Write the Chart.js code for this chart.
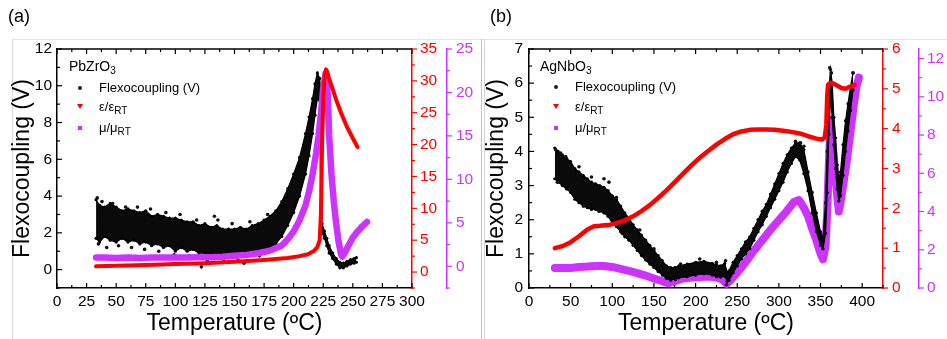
<!DOCTYPE html>
<html>
<head>
<meta charset="utf-8">
<script src="https://cdn.jsdelivr.net/npm/chart.js@4.4.0/dist/chart.umd.min.js"></script>
<style>
  body { margin:0; width:947px; height:339px; position:relative; background:#fff; overflow:hidden;
         font-family:"Liberation Sans", Arial, sans-serif; color:#000; }
  .box { position:absolute; top:0; height:339px; }
  .tag { position:absolute; top:5px; font-size:18px; line-height:22px; }
  .lg  { position:absolute; font-size:13px; line-height:16px; white-space:nowrap; }
  .lgt { position:absolute; font-size:14px; line-height:18px; white-space:nowrap; }
  sub  { font-size:10px; line-height:0; vertical-align:-3px; }
  .dot { position:absolute; width:4px; height:4px; border-radius:2px; background:#222; }
  .tri { position:absolute; width:0; height:0; border-left:3px solid transparent; border-right:3px solid transparent; border-top:5px solid #ff0000; }
  .sq  { position:absolute; width:4px; height:4px; background:#cc33ff; }
  .ln  { position:absolute; }
</style>
</head>
<body>
<div class="ln" style="left:12px;top:39px;width:935px;height:1px;background:#e4e4e4"></div>
<div class="ln" style="left:12px;top:39px;width:1px;height:300px;background:#dadada"></div>
<div class="ln" style="left:481px;top:39px;width:1px;height:300px;background:#c4c4c4"></div>
<div class="ln" style="left:484px;top:39px;width:1px;height:300px;background:#d4d4d4"></div>

<div class="box" style="left:0;width:480px"><canvas id="chartA"></canvas></div>
<div class="box" style="left:485px;width:462px"><canvas id="chartB"></canvas></div>

<div class="tag" style="left:8px">(a)</div>
<div class="tag" style="left:490px">(b)</div>

<div class="lgt" style="left:69px;top:57px">PbZrO<sub>3</sub></div>
<div class="dot" style="left:78px;top:86px"></div><div class="lg" style="left:99px;top:80px">Flexocoupling (V)</div>
<div class="tri" style="left:77px;top:104px"></div><div class="lg" style="left:99px;top:99px">ε/ε<sub>RT</sub></div>
<div class="sq"  style="left:78px;top:126px"></div><div class="lg" style="left:99px;top:120px">μ/μ<sub>RT</sub></div>

<div class="lgt" style="left:540px;top:57px">AgNbO<sub>3</sub></div>
<div class="dot" style="left:554px;top:85px"></div><div class="lg" style="left:575px;top:79px">Flexocoupling (V)</div>
<div class="tri" style="left:553px;top:104px"></div><div class="lg" style="left:575px;top:99px">ε/ε<sub>RT</sub></div>
<div class="sq"  style="left:554px;top:126px"></div><div class="lg" style="left:575px;top:120px">μ/μ<sub>RT</sub></div>

<script>
// ---------- (a) PbZrO3 ----------
var tempA_flex = [33,36,40,45,50,55,60,65,70,75,80,85,90,95,100,105,110,115,120,125,130,135,140,145,150,155,160,165,170,175,180,185,190,195,200,205,210,213,216,218,220,222,223,224,226,228,230,233,236,239,242,245,248,251,253];
var flexA_low  = [1.7,1.5,1.8,1.6,1.5,1.7,1.5,1.6,1.4,1.5,1.3,1.4,1.2,1.3,1.0,1.2,1.0,1.1,0.9,0.9,0.8,0.8,0.7,0.75,0.65,0.8,0.75,0.9,0.95,1.0,1.2,1.4,1.8,2.4,3.1,4.0,5.2,6.2,7.4,8.4,9.3,9.2,2.4,2.0,1.7,1.3,0.9,0.6,0.3,0.1,0.1,0.2,0.3,0.35,0.4];
var flexA_high = [3.8,3.5,3.4,3.6,3.4,3.2,3.3,3.2,3.1,3.2,2.9,3.0,2.9,2.8,2.8,2.7,2.6,2.6,2.4,2.5,2.3,2.4,2.2,2.2,2.2,2.3,2.2,2.4,2.5,2.7,2.9,3.2,3.7,4.4,5.2,6.1,7.4,8.3,9.3,10.1,10.7,10.4,9.5,2.5,2.1,1.7,1.3,0.9,0.6,0.4,0.35,0.45,0.55,0.6,0.65];
var tempA_out  = [34,35,38,42,47,52,58,63,68,74,79,86,92,99,104,112,118,122,127,133,136,141,148,153,158,163,171,178,184];
var flexA_out  = [3.9,1.4,3.7,1.2,3.6,1.3,3.4,1.2,3.4,1.1,3.3,1.0,3.1,0.8,3.0,0.75,2.7,0.15,0.5,2.9,2.7,0.45,2.5,0.5,0.35,2.6,0.75,3.0,1.1];
var tempA_eps  = [33,50,75,100,125,150,175,195,205,212,217,220,222,223,224,225,226,227.3,228,230,233,236,240,245,250,254];
var epsA       = [0.9,1.0,1.1,1.25,1.4,1.6,1.9,2.2,2.5,2.8,3.3,3.9,5.0,9,20,27,30.5,31.8,31.6,30.3,28.7,27.0,25.0,22.8,21.0,19.6];
var tempA_mu   = [33,40,50,60,70,80,90,100,110,120,130,140,150,160,170,180,190,195,200,205,210,213,216,219,221,223,225,227,228,229,230,232,234,236,238,240,241,243,246,250,254,258,262];
var muA        = [1.0,1.0,0.95,1.0,0.95,1.0,1.0,1.0,1.0,1.05,1.05,1.1,1.2,1.3,1.5,1.8,2.4,3.1,4.0,5.3,7.0,8.6,10.6,13.0,15.0,17.5,20.5,22.2,22.0,19.0,15.0,10.5,7.3,4.8,2.8,1.4,1.1,1.5,2.3,3.3,4.0,4.6,5.1];
var xTicksA   = [0,25,50,75,100,125,150,175,200,225,250,275,300];
var yTicksA   = [0,2,4,6,8,10,12];
var epsTicksA = [0,5,10,15,20,25,30,35];
var muTicksA  = [0,5,10,15,20,25];

// ---------- (b) AgNbO3 ----------
var tempB_flex = [31,35,40,45,50,55,60,65,70,75,80,85,90,95,100,105,110,115,120,125,130,135,140,145,150,155,160,165,170,175,180,190,200,210,220,225,230,235,238,240,245,250,255,260,265,270,275,280,285,290,295,300,305,310,315,320,325,330,335,340,345,350,353,356,358,360,362,364,366,368,370,372,374,377,380,383,386,389];
var flexB_low  = [3.2,3.1,3.0,2.9,2.8,2.6,2.5,2.4,2.35,2.3,2.3,2.25,2.2,2.1,1.9,1.8,1.65,1.5,1.4,1.25,1.1,0.95,0.82,0.7,0.6,0.48,0.38,0.28,0.23,0.28,0.3,0.33,0.38,0.42,0.38,0.33,0.32,0.35,0.2,0.22,0.45,0.65,0.85,1.0,1.15,1.4,1.65,1.85,2.1,2.35,2.6,2.85,3.1,3.4,3.65,3.85,3.75,3.35,2.85,2.2,1.65,1.25,1.15,1.6,2.8,4.5,5.6,5.0,4.2,3.5,2.9,2.55,2.7,3.3,4.0,4.6,5.2,5.8];
var flexB_high = [4.1,4.0,3.9,3.8,3.7,3.5,3.4,3.3,3.2,3.1,3.05,3.0,2.95,2.85,2.7,2.6,2.4,2.2,2.05,1.85,1.7,1.55,1.4,1.25,1.1,0.95,0.8,0.65,0.6,0.6,0.65,0.7,0.75,0.78,0.72,0.68,0.65,0.72,0.45,0.5,0.75,0.95,1.15,1.35,1.5,1.75,2.0,2.25,2.45,2.75,3.05,3.35,3.65,3.9,4.1,4.25,4.25,4.05,3.4,2.8,2.2,1.65,1.45,2.5,4.0,5.8,6.4,6.0,5.0,4.4,3.6,3.2,3.4,4.2,4.9,5.4,5.9,6.3];
var tempB_out  = [32,34,38,44,52,60,66,75,84,90,96,105,112,133,150,176,182,205,225,236,237,320,326,330,361,363,389];
var flexB_out  = [4.05,3.1,3.95,3.85,3.5,3.55,2.4,3.25,2.25,3.2,3.1,2.65,1.6,1.7,1.15,0.25,0.7,0.85,0.75,0.8,0.1,4.3,4.25,4.15,6.45,6.3,6.3];
var tempB_eps  = [31,40,50,60,70,78,85,95,105,115,125,135,145,155,165,175,185,195,205,215,225,235,245,255,265,275,285,295,305,315,325,335,345,352,355,357,358,359,362,366,370,375,380,385,391];
var epsB       = [1.0,1.05,1.15,1.3,1.47,1.55,1.56,1.58,1.63,1.7,1.8,1.93,2.08,2.26,2.45,2.66,2.87,3.08,3.27,3.44,3.6,3.74,3.86,3.93,3.97,3.98,3.98,3.97,3.95,3.92,3.88,3.81,3.75,3.73,3.78,4.1,4.8,5.1,5.15,5.13,5.08,5.02,5.0,5.05,5.1];
var tempB_mu   = [31,40,50,60,70,80,90,100,110,120,130,140,150,160,167,175,185,195,205,215,225,232,237,242,250,260,270,280,290,300,310,318,324,330,335,340,345,350,353,356,358,360,362,364,367,370,372,374,378,382,386,390,393,396];
var muB        = [1.05,1.05,1.05,1.1,1.12,1.15,1.15,1.1,1.0,0.9,0.78,0.65,0.5,0.35,0.25,0.35,0.5,0.55,0.58,0.6,0.55,0.45,0.22,0.4,0.8,1.35,1.95,2.5,3.05,3.55,4.05,4.5,4.6,4.2,3.75,3.1,2.5,1.8,1.5,2.2,4.0,6.5,8.8,7.8,6.3,4.8,4.0,4.5,5.6,6.8,8.2,9.6,10.5,11.0];
var xTicksB   = [0,50,100,150,200,250,300,350,400];
var yTicksB   = [0,1,2,3,4,5,6,7];
var epsTicksB = [0,1,2,3,4,5,6];
var muTicksB  = [0,2,4,6,8,10,12];

var FONT = '"Liberation Sans", Arial, sans-serif';
var RED = '#ff0000', MAG = '#cc33ff', BLK = '#000000';

function pts(xs, ys) { return xs.map(function (x, i) { return {x: x, y: ys[i]}; }); }

// inward ticks on the frame, outward ticks on the extra right axes, plus minor ticks
var tickMarks = {
  id: 'tickMarks',
  afterDraw: function (chart) {
    var ctx = chart.ctx, area = chart.chartArea;
    ctx.save();
    Object.keys(chart.scales).forEach(function (id) {
      var s = chart.scales[id];
      var vals = s.ticks.map(function (t) { return t.value; });
      var step = vals[1] - vals[0];
      var minors = [];
      for (var i = 0; i < vals.length - 1; i++) minors.push(vals[i] + step / 2);
      if (vals[0] - step / 2 >= s.min - 1e-9) minors.push(vals[0] - step / 2);
      if (vals[vals.length - 1] + step / 2 <= s.max + 1e-9) minors.push(vals[vals.length - 1] + step / 2);
      ctx.strokeStyle = s.options.border.color;
      ctx.lineWidth = 1.2;
      var mark = function (v, len) {
        var p = s.getPixelForValue(v);
        ctx.beginPath();
        if (s.axis === 'x') {
          ctx.moveTo(p, area.bottom); ctx.lineTo(p, area.bottom - len);
          ctx.moveTo(p, area.top); ctx.lineTo(p, area.top + len);
        } else if (s.position === 'left') {
          ctx.moveTo(area.left, p); ctx.lineTo(area.left + len, p);
        } else {
          ctx.moveTo(s.left, p); ctx.lineTo(s.left + len, p);
        }
        ctx.stroke();
      };
      vals.forEach(function (v) { mark(v, 5); });
      minors.forEach(function (v) { mark(v, 3); });
    });
    ctx.strokeStyle = BLK;
    ctx.lineWidth = 1.5;
    ctx.beginPath();
    ctx.moveTo(area.left, area.top); ctx.lineTo(area.right, area.top);
    ctx.stroke();
    ctx.restore();
  }
};

function setTicks(list) { return function (s) { s.ticks = list.map(function (v) { return {value: v}; }); }; }
function width(w) { return function (s) { s.width = w; }; }

function makeScales(o) {
  return {
    x: { type: 'linear', min: 0, max: o.xMax,
         afterBuildTicks: setTicks(o.xTicks), afterFit: function (s) { s.height = 51; },
         grid: { display: false, drawTicks: false }, border: { display: true, color: BLK, width: 1.5 },
         ticks: { color: BLK, font: { family: FONT, size: 15.5 }, padding: 4, maxRotation: 0, autoSkip: false },
         title: { display: true, text: 'Temperature (ºC)', color: BLK,
                  font: { family: FONT, size: 23, lineHeight: 1 }, padding: { top: 0, bottom: 4 } } },
    y: { position: 'left', min: o.yMin, max: o.yMax,
         afterBuildTicks: setTicks(o.yTicks), afterFit: width(o.leftW),
         grid: { display: false, drawTicks: false }, border: { display: true, color: BLK, width: 1.5 },
         ticks: { color: BLK, font: { family: FONT, size: 15.5 }, padding: o.leftPad },
         title: { display: true, text: 'Flexocoupling (V)', color: BLK,
                  font: { family: FONT, size: 23, lineHeight: 1 }, padding: { top: o.titlePad, bottom: 0 } } },
    yR: { position: 'right', min: o.rMin, max: o.rMax,
          afterBuildTicks: setTicks(o.rTicks), afterFit: width(o.rW),
          grid: { display: false, drawTicks: false }, border: { display: true, color: RED, width: 1.5 },
          ticks: { color: RED, font: { family: FONT, size: 15.5 }, padding: o.rPad } },
    yM: { position: 'right', min: o.mMin, max: o.mMax,
          afterBuildTicks: setTicks(o.mTicks), afterFit: width(o.mW),
          grid: { display: false, drawTicks: false }, border: { display: true, color: MAG, width: 1.5 },
          ticks: { color: MAG, font: { family: FONT, size: 15.5 }, padding: o.mPad } }
  };
}

var common = {
  responsive: true,
  maintainAspectRatio: false,
  animation: false,
  layout: { padding: { top: 49, left: 0, right: 0, bottom: 0 } },
  plugins: { legend: { display: false }, tooltip: { enabled: false } },
  events: []
};

function lineSet(data, axis, color, w) {
  return { data: data, yAxisID: axis, borderColor: color, borderWidth: w, pointRadius: 0,
           fill: false, tension: 0, borderJoinStyle: 'round', borderCapStyle: 'round' };
}
function bandEdge(data, fill) {
  return { data: data, yAxisID: 'y', borderColor: BLK, borderWidth: 1.2, pointRadius: 1.6,
           pointBackgroundColor: BLK, pointBorderWidth: 0, backgroundColor: '#0a0a0a',
           fill: fill, tension: 0 };
}
function dots(data) {
  return { data: data, yAxisID: 'y', showLine: false, pointRadius: 1.8, pointBackgroundColor: '#111',
           pointBorderWidth: 0, fill: false };
}

// (a): first dataset ends up on top
new Chart(document.getElementById('chartA'), {
  type: 'line',
  data: { datasets: [
    lineSet(pts(tempA_eps, epsA), 'yR', RED, 4),
    lineSet(pts(tempA_mu, muA), 'yM', MAG, 6.5),
    dots(pts(tempA_out, flexA_out)),
    bandEdge(pts(tempA_flex, flexA_low), false),
    bandEdge(pts(tempA_flex, flexA_high), '-1')
  ] },
  options: Object.assign({}, common, {
    scales: makeScales({ xMax: 300, xTicks: xTicksA, yMin: -1, yMax: 12, yTicks: yTicksA, leftW: 57, leftPad: 5, titlePad: 11.5,
                         rMin: -2.5, rMax: 35, rTicks: epsTicksA, rW: 35, rPad: 8,
                         mMin: -2.5, mMax: 25, mTicks: muTicksA, mW: 33, mPad: 9 })
  }),
  plugins: [tickMarks]
});

// (b): magenta sits under the black band here
new Chart(document.getElementById('chartB'), {
  type: 'line',
  data: { datasets: [
    lineSet(pts(tempB_eps, epsB), 'yR', RED, 4.5),
    dots(pts(tempB_out, flexB_out)),
    bandEdge(pts(tempB_flex, flexB_low), false),
    bandEdge(pts(tempB_flex, flexB_high), '-1'),
    lineSet(pts(tempB_mu, muB), 'yM', MAG, 8)
  ] },
  options: Object.assign({}, common, {
    scales: makeScales({ xMax: 425, xTicks: xTicksB, yMin: 0, yMax: 7, yTicks: yTicksB, leftW: 44, leftPad: 6, titlePad: 0.5,
                         rMin: 0, rMax: 6, rTicks: epsTicksB, rW: 36, rPad: 9,
                         mMin: 0, mMax: 12.5, mTicks: muTicksB, mW: 28, mPad: 8 })
  }),
  plugins: [tickMarks]
});
</script>
</body>
</html>
